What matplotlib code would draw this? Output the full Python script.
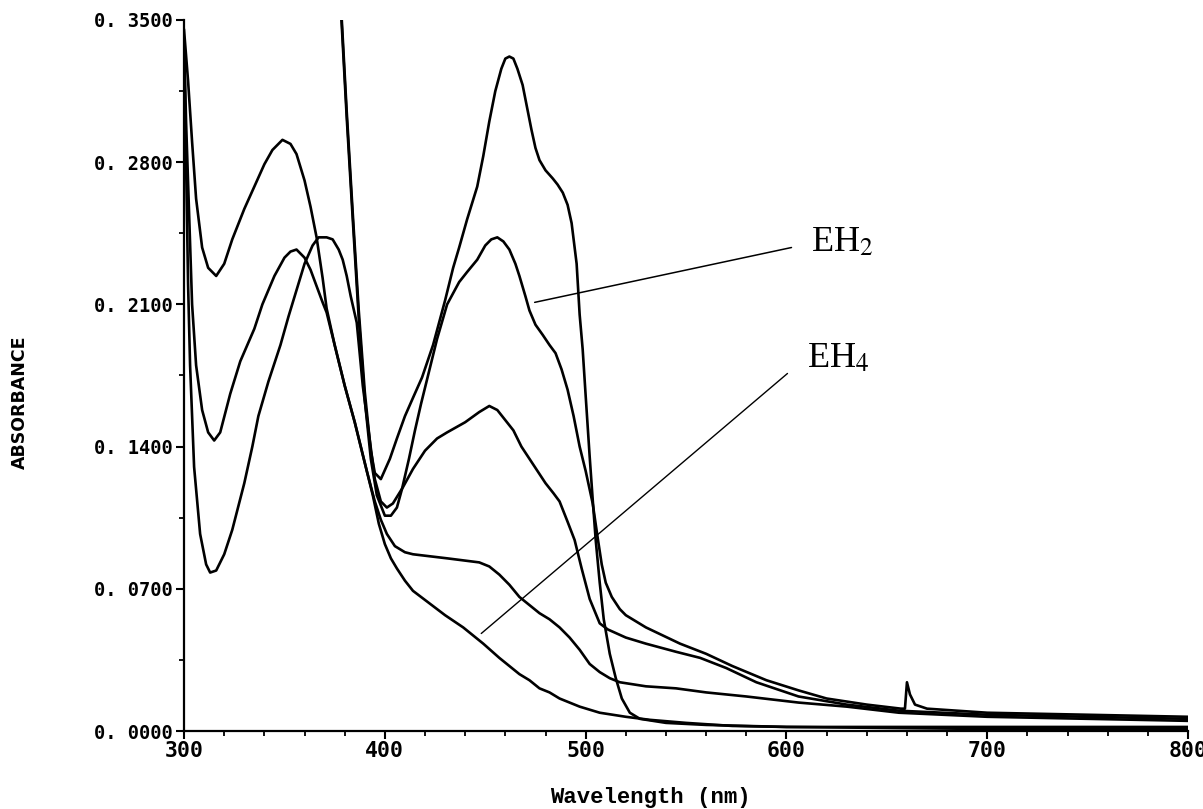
import matplotlib
matplotlib.use('Agg')
import matplotlib.pyplot as plt
from matplotlib.ticker import MultipleLocator, FuncFormatter

# spectre 1 : pic a 460 nm (part hors echelle sous 378 nm)
wl_1 = [372, 375, 378, 381, 384, 387, 390, 393, 395, 398, 402.5, 406, 410, 414,
        418.5, 424, 430, 434, 437, 441, 446, 449, 452, 455, 458, 460, 462, 464,
        466, 468.6, 471, 473, 475, 477, 480, 483.6, 486, 488.6, 491, 493, 495.5,
        497, 498.5, 500, 502, 503.5, 505, 507, 509, 512, 515, 518, 522, 527, 540,
        560, 600, 650, 700, 800]
abs_1 = [0.47, 0.42, 0.36, 0.305, 0.255, 0.207, 0.167, 0.138, 0.127, 0.124, 0.134,
         0.144, 0.155, 0.164, 0.174, 0.19, 0.212, 0.228, 0.238, 0.252, 0.268, 0.283,
         0.300, 0.315, 0.326, 0.331, 0.332, 0.331, 0.326, 0.318, 0.306, 0.296, 0.287,
         0.281, 0.276, 0.272, 0.269, 0.265, 0.259, 0.25, 0.23, 0.205, 0.188, 0.165,
         0.135, 0.114, 0.094, 0.073, 0.055, 0.038, 0.026, 0.016, 0.009, 0.006, 0.004,
         0.003, 0.002, 0.0015, 0.001, 0.001]

# spectre 2 : EH2
wl_2 = [372, 375, 378, 381, 384, 387, 390, 393, 396, 400, 403, 406, 408.5, 412,
        415, 418, 421, 426, 431, 437, 441, 446, 450, 453, 456, 459, 462, 465, 467,
        470, 472, 475, 478.6, 482, 485, 488, 491, 494, 497, 500, 503.5, 506, 508,
        510, 513, 517, 520, 530, 547, 560, 573, 590, 606, 620, 640, 657, 659, 660,
        661.5, 664, 670, 700, 750, 800]
abs_2 = [0.47, 0.418, 0.357, 0.302, 0.252, 0.203, 0.163, 0.134, 0.116, 0.106, 0.106,
         0.11, 0.119, 0.134, 0.148, 0.161, 0.173, 0.193, 0.21, 0.221, 0.226, 0.232,
         0.239, 0.242, 0.243, 0.241, 0.237, 0.23, 0.224, 0.214, 0.207, 0.2, 0.195,
         0.19, 0.186, 0.178, 0.168, 0.155, 0.14, 0.128, 0.112, 0.095, 0.082, 0.073,
         0.066, 0.06, 0.057, 0.051, 0.043, 0.038, 0.032, 0.025, 0.02, 0.016, 0.013,
         0.011, 0.011, 0.024, 0.018, 0.013, 0.011, 0.009, 0.008, 0.007]

# spectre 3 : plateau 366-374 nm, pic 0.16 a 452 nm
wl_3 = [300, 301, 302, 303, 305, 308, 311, 313, 316, 320, 324, 330, 334, 337, 342,
        348, 352, 356, 360, 364, 367, 371, 374, 377, 379, 381, 383, 386, 389, 392,
        395, 398, 401, 404, 409, 414, 420, 426, 431, 440, 447, 452, 456, 460, 464,
        468, 472, 476, 480, 484, 487, 491, 494.5, 498, 502, 507, 511, 520, 530, 545,
        557, 570, 585, 606, 630, 656, 700, 750, 800]
abs_3 = [0.34, 0.28, 0.22, 0.18, 0.13, 0.097, 0.082, 0.078, 0.079, 0.087, 0.099,
         0.122, 0.14, 0.155, 0.172, 0.19, 0.204, 0.217, 0.23, 0.239, 0.243, 0.243,
         0.242, 0.237, 0.232, 0.224, 0.214, 0.201, 0.17, 0.147, 0.124, 0.113, 0.11,
         0.112, 0.12, 0.129, 0.138, 0.144, 0.147, 0.152, 0.157, 0.16, 0.158, 0.153,
         0.148, 0.14, 0.134, 0.128, 0.122, 0.117, 0.113, 0.103, 0.094, 0.08, 0.065,
         0.053, 0.05, 0.046, 0.043, 0.039, 0.036, 0.031, 0.024, 0.017, 0.013, 0.01,
         0.008, 0.007, 0.006]

# spectre 4 : pic 356 nm, plateau 0.087 vers 420-440 nm
wl_4 = [300, 301, 302, 304, 306, 309, 312, 315, 318, 323, 328, 335, 339, 345, 350,
        353, 356, 360, 363, 366, 369, 371, 375, 380, 385, 388, 391, 395, 398, 401,
        405, 410, 414, 431, 447, 452, 457, 462, 467, 472, 477, 482, 487, 492, 497,
        502, 507, 512, 517, 530, 545, 560, 580, 606, 630, 656, 700, 750, 800]
abs_4 = [0.34, 0.3, 0.27, 0.21, 0.18, 0.158, 0.147, 0.143, 0.147, 0.166, 0.182,
         0.198, 0.21, 0.224, 0.233, 0.236, 0.237, 0.233, 0.227, 0.219, 0.211, 0.206,
         0.19, 0.17, 0.152, 0.14, 0.128, 0.113, 0.104, 0.097, 0.091, 0.088, 0.087,
         0.085, 0.083, 0.081, 0.077, 0.072, 0.066, 0.062, 0.058, 0.055, 0.051, 0.046,
         0.04, 0.033, 0.029, 0.026, 0.024, 0.022, 0.021, 0.019, 0.017, 0.014, 0.012,
         0.009, 0.007, 0.006, 0.005]

# spectre 5 : EH4 (pic 349 nm)
wl_5 = [300, 302, 304, 306, 309, 312, 316, 320, 324, 330, 335, 340, 344, 349, 353,
        356, 360, 363, 366, 369, 371, 375, 380, 385, 388, 391, 394, 397, 400, 403,
        406, 410, 414, 422, 430, 439, 449, 457, 462, 467, 472, 477, 482, 487, 492,
        497, 507, 520, 532, 550, 573, 600, 700, 800]
abs_5 = [0.345, 0.32, 0.29, 0.262, 0.238, 0.228, 0.224, 0.23, 0.242, 0.257, 0.268,
         0.279, 0.286, 0.291, 0.289, 0.284, 0.271, 0.258, 0.243, 0.223, 0.208, 0.19,
         0.17, 0.152, 0.14, 0.128, 0.116, 0.102, 0.092, 0.085, 0.08, 0.074, 0.069,
         0.063, 0.057, 0.051, 0.043, 0.036, 0.032, 0.028, 0.025, 0.021, 0.019, 0.016,
         0.014, 0.012, 0.009, 0.007, 0.0055, 0.004, 0.0025, 0.002, 0.002, 0.002]

spectres = [(wl_1, abs_1), (wl_2, abs_2), (wl_3, abs_3), (wl_4, abs_4), (wl_5, abs_5)]

plt.rcParams['mathtext.fontset'] = 'stix'

fig = plt.figure(figsize=(12.03, 8.09), dpi=100)
ax = fig.add_axes([0.153, 0.0964, 0.8346, 0.8789])

for wl, a in spectres:
    ax.plot(wl, a, color='black', lw=1.9)

ax.set_xlim(300, 800)
ax.set_ylim(0, 0.35)

ax.spines['top'].set_visible(False)
ax.spines['right'].set_visible(False)
ax.spines['left'].set_linewidth(1.6)
ax.spines['bottom'].set_linewidth(1.6)

ax.xaxis.set_major_locator(MultipleLocator(100))
ax.xaxis.set_minor_locator(MultipleLocator(20))
ax.yaxis.set_major_locator(MultipleLocator(0.07))
ax.yaxis.set_minor_locator(MultipleLocator(0.035))
ax.yaxis.set_major_formatter(FuncFormatter(lambda v, p: ('%.4f' % v).replace('.', '. ')))
ax.tick_params(which='major', direction='out', length=6, width=1.5)
ax.tick_params(which='minor', direction='out', length=3.5, width=1.3)
ax.tick_params(axis='y', pad=2)
ax.tick_params(axis='x', pad=1)
for lab in ax.get_yticklabels():
    lab.set_fontfamily('DejaVu Sans Mono')
    lab.set_fontweight('bold')
    lab.set_fontsize(13.5)
for lab in ax.get_xticklabels():
    lab.set_fontfamily('DejaVu Sans Mono')
    lab.set_fontweight('bold')
    lab.set_fontsize(15.5)

fig.text(650 / 1203, 1 - 797 / 809, 'Wavelength (nm)', ha='center', va='center',
         family='Liberation Mono', weight='bold', fontsize=16)
fig.text(20 / 1203, 1 - 402 / 809, 'ABSORBANCE', rotation=90, ha='center', va='center',
         family='DejaVu Sans', weight='bold', fontsize=12.5)

# reperes EH2 / EH4
ax.annotate('', xy=(474.6, 0.211), xytext=(602.5, 0.238),
            arrowprops=dict(arrowstyle='-', lw=1.1, color='black', shrinkA=0, shrinkB=0))
ax.annotate('', xy=(448, 0.048), xytext=(600.5, 0.176),
            arrowprops=dict(arrowstyle='-', lw=1.0, color='black', shrinkA=0, shrinkB=0))
ax.text(612, 0.236, r'EH$_2$', family='Liberation Serif', fontsize=26, va='baseline')
ax.text(610, 0.179, r'EH$_4$', family='Liberation Serif', fontsize=26, va='baseline')

fig.savefig('out.png', dpi=100)
